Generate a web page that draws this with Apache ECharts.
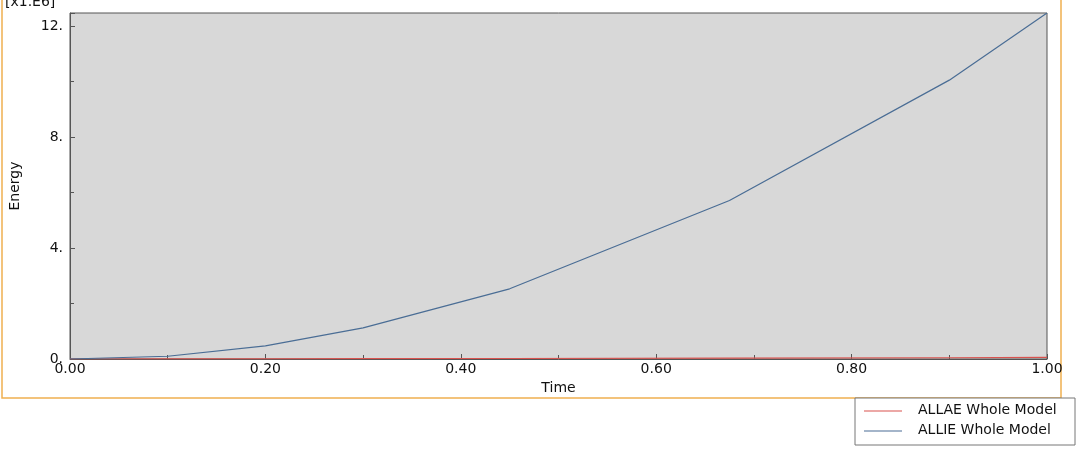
<!DOCTYPE html><html><head><meta charset="utf-8">
<script src="https://cdn.jsdelivr.net/npm/echarts@6/dist/echarts.min.js"></script>
<style>html,body{margin:0;background:#fff}#c{width:1080px;height:451px}</style></head><body><div id="c"></div>
<script>
const times=[0,0.1,0.2,0.3,0.45,0.675,0.9,1.0];
const allie=[0,0.1,0.47,1.12,2.53,5.71,10.05,12.47];
const allae=[0,0.002,0.006,0.01,0.018,0.03,0.045,0.055];
const F='Verdana, "DejaVu Sans", sans-serif';
const ch=echarts.init(document.getElementById('c'));
ch.setOption({
 animation:false,
 grid:{left:65,right:33,top:13,bottom:92,show:true,backgroundColor:'#d8d8d8',borderColor:'#555',borderWidth:1},
 xAxis:{type:'value',min:0,max:1,interval:0.2,name:'Time',nameLocation:'middle',nameGap:22,
  nameTextStyle:{fontFamily:F,fontSize:14,color:'#111'},
  axisLine:{lineStyle:{color:'#555'}},axisTick:{inside:true,length:5,lineStyle:{color:'#555'}},
  minorTick:{show:true,splitNumber:2,length:4,lineStyle:{color:'#555'}},splitLine:{show:false},
  axisLabel:{fontFamily:F,fontSize:14,color:'#111',margin:3,formatter:v=>v.toFixed(2)}},
 yAxis:{type:'value',min:0,max:12.47,interval:4,name:'Energy',nameLocation:'middle',nameGap:48,
  nameTextStyle:{fontFamily:F,fontSize:14,color:'#111'},
  axisLine:{show:true,lineStyle:{color:'#555'}},axisTick:{inside:true,length:5,lineStyle:{color:'#555'}},
  minorTick:{show:true,splitNumber:2,length:4,lineStyle:{color:'#555'}},splitLine:{show:false},
  axisLabel:{fontFamily:F,fontSize:14,color:'#111',margin:7,showMaxLabel:false,formatter:v=>(v%4===0)?v+'.':''}},
 legend:{show:false},
 series:[
  {name:'ALLAE Whole Model',type:'line',symbol:'none',data:times.map((t,i)=>[t,allae[i]]),lineStyle:{color:'#d9534f',width:1.2}},
  {name:'ALLIE Whole Model',type:'line',symbol:'none',data:times.map((t,i)=>[t,allie[i]]),lineStyle:{color:'#4a6d95',width:1.2}}
 ],
 graphic:[
  {type:'rect',shape:{x:2,y:-5,width:1059,height:403},style:{fill:'none',stroke:'#f0b050',lineWidth:1.5}},
  {type:'text',left:5,top:-5,style:{text:'[x1.E6]',font:'14px '+F,fill:'#111'}},
  {type:'rect',shape:{x:855,y:398,width:220,height:47},style:{fill:'#fff',stroke:'#777',lineWidth:1}},
  {type:'line',shape:{x1:864,y1:411,x2:902,y2:411},style:{stroke:'#d9534f',lineWidth:1.2}},
  {type:'line',shape:{x1:864,y1:431,x2:902,y2:431},style:{stroke:'#4a6d95',lineWidth:1.2}},
  {type:'text',left:918,top:403,style:{text:'ALLAE Whole Model',font:'14px '+F,fill:'#111'}},
  {type:'text',left:918,top:423,style:{text:'ALLIE Whole Model',font:'14px '+F,fill:'#111'}}
 ]
});
</script></body></html>
